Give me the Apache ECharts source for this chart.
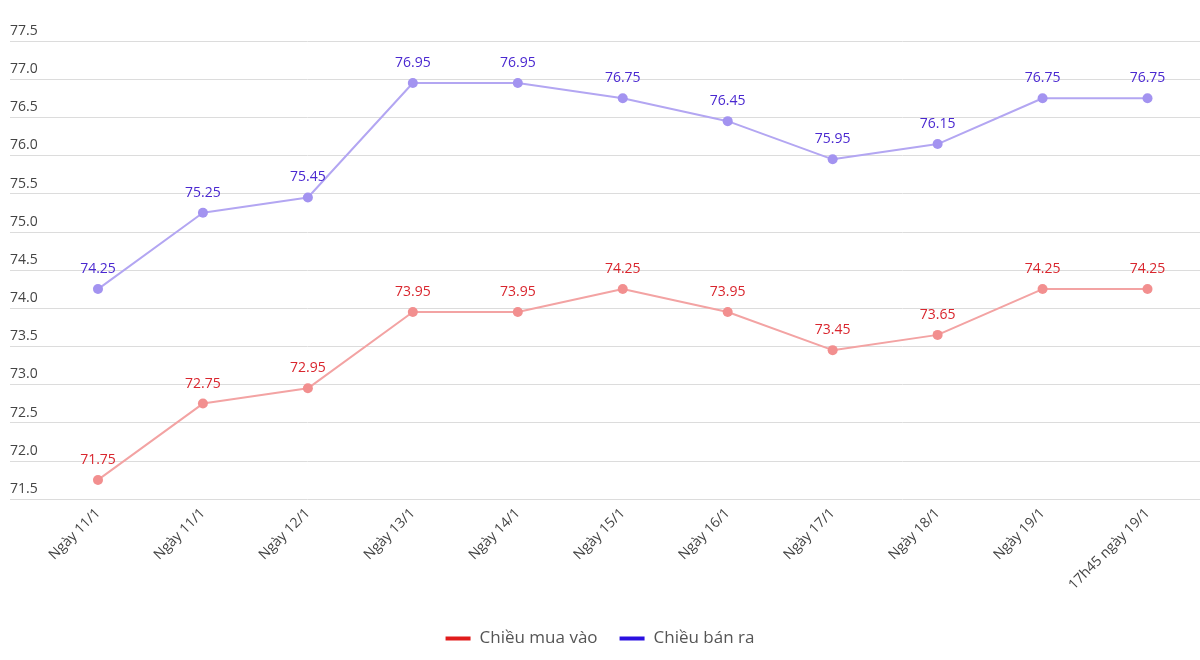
<!DOCTYPE html>
<html><head><meta charset="utf-8">
<script src="https://cdn.jsdelivr.net/npm/echarts@6/dist/echarts.min.js"></script>
<style>html,body{margin:0;padding:0;background:#fff}#c{width:1200px;height:660px}</style>
</head><body><div id="c"></div>
<script>
const categories = ['Ngày 11/1','Ngày 11/1','Ngày 12/1','Ngày 13/1','Ngày 14/1','Ngày 15/1','Ngày 16/1','Ngày 17/1','Ngày 18/1','Ngày 19/1','17h45 ngày 19/1'];
const buyValues = [71.75,72.75,72.95,73.95,73.95,74.25,73.95,73.45,73.65,74.25,74.25];
const sellValues = [74.25,75.25,75.45,76.95,76.95,76.75,76.45,75.95,76.15,76.75,76.75];
const seriesNames = ['Chiều mua vào','Chiều bán ra'];
const yMin = 71.5, yMax = 77.5, yStep = 0.5;

const chart = echarts.init(document.getElementById('c'));
const font = '"Open Sans", sans-serif';
function lineSeries(name, data, lineColor, dotColor, labelColor) {
  return {
    name, type: 'line', data, xAxisIndex: 1, yAxisIndex: 1,
    symbol: 'circle', symbolSize: 10,
    lineStyle: { width: 2, color: lineColor },
    itemStyle: { color: dotColor },
    label: { show: true, position: 'top', distance: 8, color: labelColor, fontSize: 14, fontFamily: font,
      formatter: p => p.value.toFixed(2) },
    emphasis: { disabled: true }, animation: false
  };
}
chart.setOption({
  animation: false,
  grid: [
    { left: 10, right: 0, top: 41, bottom: 161 },
    { left: 45.5, right: 0, top: 41, bottom: 161 }
  ],
  legend: {
    bottom: 8, left: 'center', icon: 'rect', itemWidth: 25, itemHeight: 4, itemGap: 22,
    textStyle: { color: '#555', fontSize: 17, fontFamily: font, padding: [0,0,0,4] },
    data: [
      { name: seriesNames[0], itemStyle: { color: '#e01b1b' } },
      { name: seriesNames[1], itemStyle: { color: '#2a10e0' } }
    ]
  },
  xAxis: [
    { gridIndex: 0, type: 'value', min: 0, max: 1, show: false },
    { gridIndex: 1, type: 'category', data: categories, boundaryGap: true,
      axisLine: { show: false }, axisTick: { show: false },
      axisLabel: { rotate: 45, color: '#444', fontSize: 14, fontFamily: font, margin: 12, interval: 0 } }
  ],
  yAxis: [
    { gridIndex: 0, type: 'value', min: yMin, max: yMax, interval: yStep,
      axisLine: { show: false }, axisTick: { show: false },
      splitLine: { lineStyle: { color: '#dcdcdc', width: 1 } },
      axisLabel: { inside: true, verticalAlign: 'bottom', align: 'left', margin: 0, padding: [0,0,3,0],
        color: '#444', fontSize: 14, fontFamily: font, formatter: v => v.toFixed(1) } },
    { gridIndex: 1, type: 'value', min: yMin, max: yMax, interval: yStep, show: false }
  ],
  series: [
    lineSeries(seriesNames[0], buyValues, '#f3a3a3', '#f28f8f', '#d9262e'),
    lineSeries(seriesNames[1], sellValues, '#b3a6f2', '#a393f0', '#4a28d0')
  ]
});
</script></body></html>
